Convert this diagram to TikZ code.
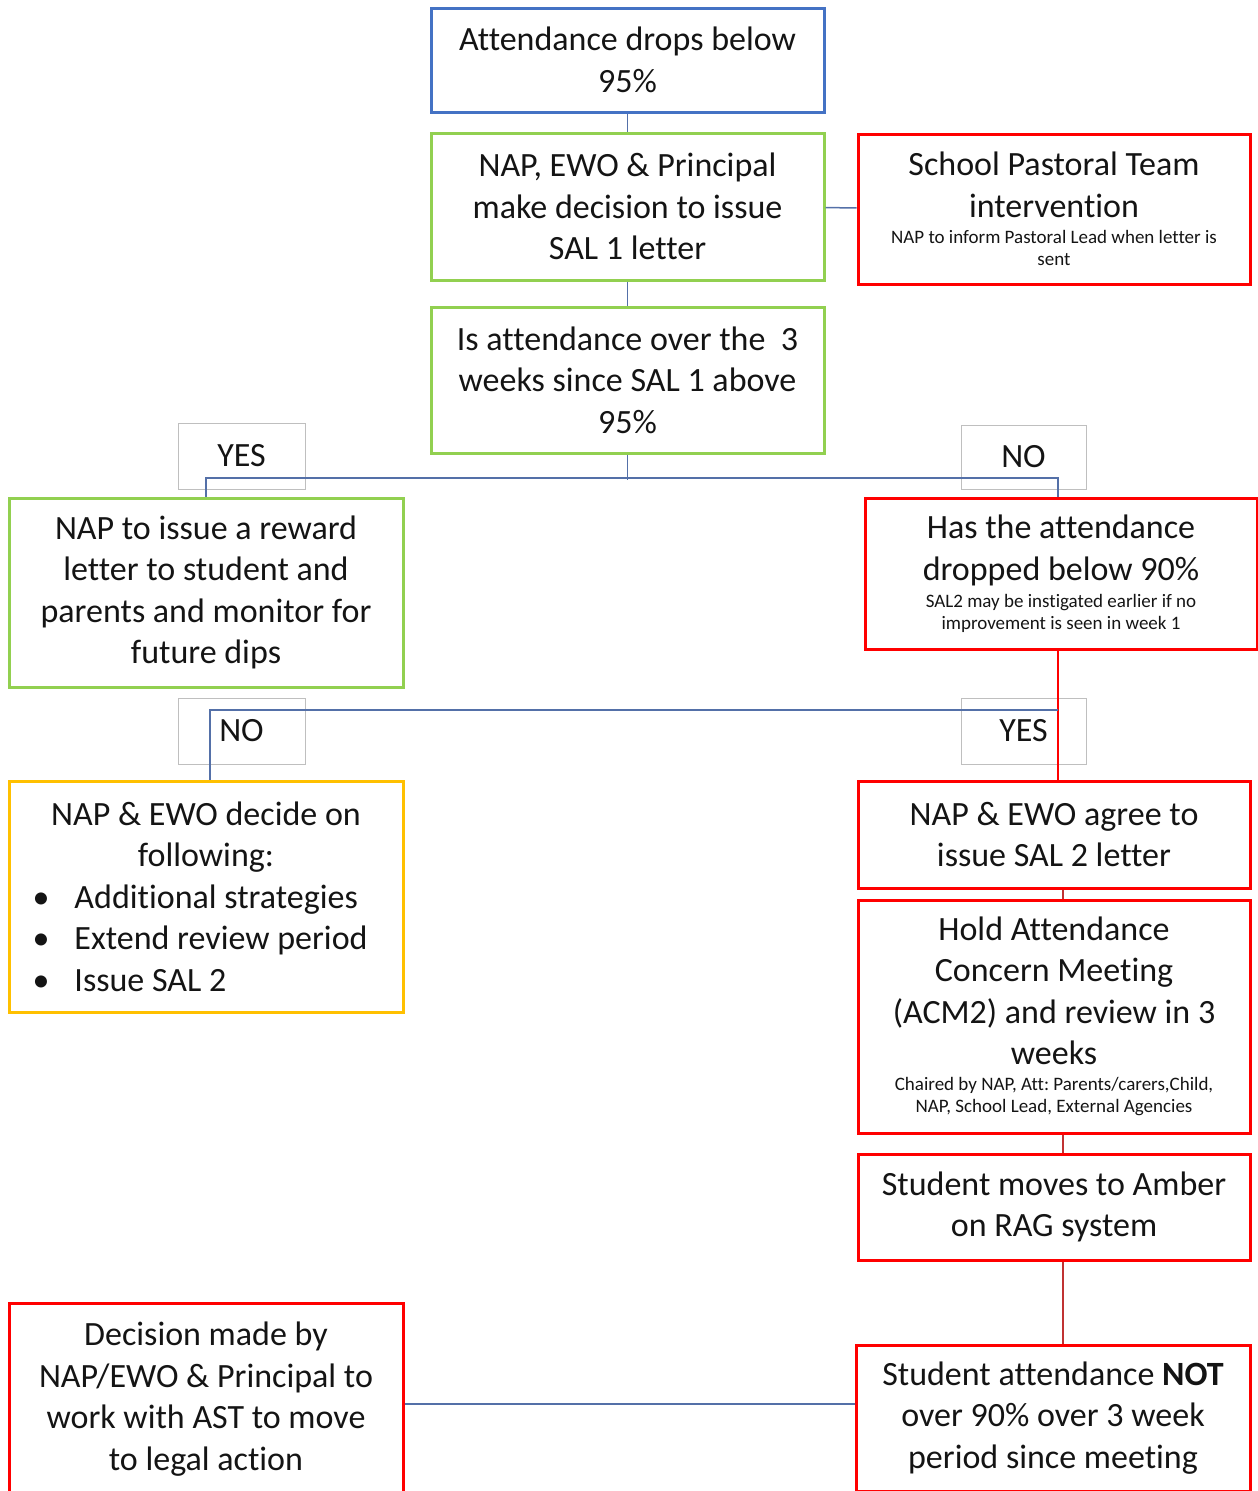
\documentclass[tikz,border=0pt]{standalone}
\usepackage{fontspec}
\setmainfont{Carlito}[Ligatures=NoCommon]
\definecolor{bxblue}{RGB}{68,114,196}
\definecolor{bxgreen}{RGB}{146,208,80}
\definecolor{bxred}{RGB}{255,0,0}
\definecolor{bxamber}{RGB}{255,192,0}
\definecolor{lblgray}{RGB}{191,191,191}
\definecolor{conblue}{RGB}{84,112,168}
\definecolor{conred}{RGB}{192,50,50}
\definecolor{txt}{RGB}{20,20,20}
\newcommand\rigidsp{\spaceskip=\fontdimen2\font\xspaceskip=\fontdimen2\font\relax}
\newcommand\bigtxt{\fontsize{34}{41.5}\selectfont}
\newcommand\smalltxt{\fontsize{19}{22}\selectfont\rigidsp}
\tikzset{
  box/.style={draw, line width=3pt, inner sep=0pt, align=center, text=txt, font=\bigtxt,
    execute at begin node={\rigidsp}},
  lbl/.style={draw=lblgray, line width=1pt, inner sep=0pt, text=txt, font=\bigtxt},
  conn/.style={line width=1.5pt, draw=conblue},
  connr/.style={line width=1.5pt, draw=bxred},
  connd/.style={line width=1.5pt, draw=conred},
}
\begin{document}
\begin{tikzpicture}[x=1pt,y=-1pt]
\path[use as bounding box] (0,0) rectangle (1258,1491);
\clip (0,0) rectangle (1258,1491);

\node[box, draw=bxblue, minimum width=393pt, minimum height=104pt, text width=385pt] (att) at (627.5,60) {Attendance drops below\\95\%};
\node[box, draw=bxgreen, minimum width=393pt, minimum height=147pt, text width=385pt] (dec1) at (627.5,206.5) {NAP, EWO \& Principal\\make decision to issue\\SAL 1 letter};
\node[box, draw=bxred, minimum width=392pt, minimum height=150pt, text width=385pt] (past) at (1054,209) {{\bigtxt\rigidsp\centering School Pastoral Team\\intervention\par}\vspace{4pt}{\smalltxt\centering NAP to inform Pastoral Lead  when letter is\\sent\par}};
\node[box, draw=bxgreen, minimum width=393pt, minimum height=146pt, text width=385pt] (isatt) at (627.5,380) {Is attendance over the \ 3\\weeks since SAL 1 above\\95\%};

\node[lbl, minimum width=127pt, minimum height=66pt] (yes1) at (241.5,456) {YES};
\node[lbl, minimum width=125pt, minimum height=64pt] (no1) at (1023.5,457) {NO};

\node[box, draw=bxgreen, minimum width=394pt, minimum height=189pt, text width=385pt] (reward) at (206,592.5) {NAP to issue a reward\\letter to student and\\parents and monitor for\\future dips};
\node[box, draw=bxred, minimum width=392pt, minimum height=151pt, text width=385pt] (has) at (1061,573.5) {{\bigtxt\rigidsp\centering Has the attendance\\dropped below 90\%\par}\vspace{5pt}{\smalltxt\centering SAL2 may be instigated earlier if no\\improvement is seen in week 1\par}};

\node[lbl, minimum width=127pt, minimum height=66pt] (no2) at (241.5,731) {NO};
\node[lbl, minimum width=125pt, minimum height=66pt] (yes2) at (1023.5,731) {YES};

\node[box, draw=bxamber, minimum width=394pt, minimum height=231pt, text width=375pt, align=left] (decide) at (206,896.5) {{\centering NAP \& EWO decide on\\following:\par}\hspace*{14pt}\makebox[42pt][l]{•}Additional strategies\\\hspace*{14pt}\makebox[42pt][l]{•}Extend review period\\\hspace*{14pt}\makebox[42pt][l]{•}Issue SAL 2};
\node[box, draw=bxred, minimum width=392pt, minimum height=107pt, text width=385pt] (agree) at (1054,834.5) {NAP \& EWO agree to\\issue SAL 2 letter};
\node[box, draw=bxred, minimum width=392pt, minimum height=233pt, text width=385pt] (hold) at (1054,1016.5) {{\bigtxt\rigidsp\centering Hold Attendance\\Concern Meeting\\(ACM2) and review in 3\\weeks\par}\vspace{4pt}{\smalltxt\centering Chaired by NAP, Att: Parents/carers,Child,\\NAP, School Lead, External Agencies\par}};
\node[box, draw=bxred, minimum width=392pt, minimum height=106pt, text width=385pt] (amber) at (1054,1207) {Student moves to Amber\\on RAG system};
\node[box, draw=bxred, minimum width=394pt, minimum height=192pt, text width=385pt] (legal) at (206,1399) {Decision made by\\NAP/EWO \& Principal to\\work with AST to move\\to legal action};
\node[box, draw=bxred, minimum width=394pt, minimum height=146pt, text width=385pt] (notover) at (1053,1418) {Student attendance \textbf{NOT}\\over 90\% over 3 week\\period since meeting};

% connectors
\coordinate (j1) at (627.5,478);
\coordinate (r1) at (1058,478);
\coordinate (r2) at (1058,710);
\draw[conn] (att) -- (dec1);
\draw[conn] (dec1) -- (past);
\draw[conn] (dec1) -- (isatt);
\draw[conn] (isatt.south) -- ([yshift=-2pt]j1);
\draw[conn] (reward.north) |- (j1) -- (r1) -- (r1 |- has.north);
\draw[connr] (r1 |- has.south) -- (r1 |- agree.north);
\draw[conn] (r2) -| ([xshift=4pt]decide.north);
\draw[connd] ([xshift=9pt]agree.south) -- ([xshift=9pt]hold.north);
\draw[connd] ([xshift=9pt]hold.south) -- ([xshift=9pt]amber.north);
\draw[connd] ([xshift=9pt]amber.south) -- ([xshift=10pt]notover.north);
\draw[conn] ([yshift=-5pt]legal.east) -- ([yshift=-5pt]legal.east -| notover.west);
\end{tikzpicture}
\end{document}
